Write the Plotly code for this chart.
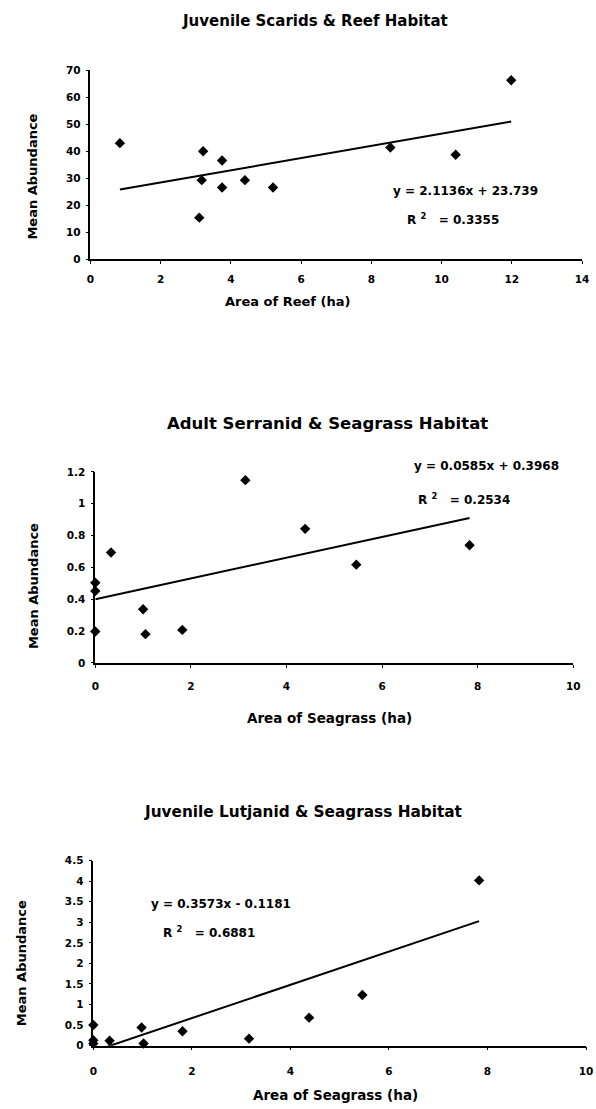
import plotly.graph_objects as go

W, H = 596, 1109

# ---- Data ----
# Chart 1: Juvenile Scarids & Reef Habitat
reef_area = [0.84, 3.21, 3.17, 3.10, 3.75, 3.75, 4.40, 5.20, 8.54, 10.40, 11.98]
scarid_abund = [43.0, 40.0, 29.3, 15.4, 36.6, 26.6, 29.3, 26.6, 41.4, 38.7, 66.3]
scarid_trend_x = [0.84, 11.98]
scarid_trend_y = [25.8, 51.0]

# Chart 2: Adult Serranid & Seagrass Habitat
seagrass_area2 = [0, 0, 0, 0.33, 1.00, 1.05, 1.82, 3.14, 4.39, 5.46, 7.83]
serranid_abund = [0.197, 0.503, 0.451, 0.693, 0.337, 0.180, 0.207, 1.148, 0.842, 0.617, 0.739]
serranid_trend_x = [0, 7.83]
serranid_trend_y = [0.40, 0.91]

# Chart 3: Juvenile Lutjanid & Seagrass Habitat
seagrass_area3 = [0, 0, 0, 0.33, 0.98, 1.02, 1.81, 3.16, 4.38, 5.46, 7.83]
lutjanid_abund = [0.50, 0.13, 0.05, 0.12, 0.44, 0.05, 0.35, 0.17, 0.68, 1.23, 4.02]
lutjanid_trend_x = [0, 7.83]
lutjanid_trend_y = [-0.14, 3.03]

titles = ["Juvenile Scarids & Reef Habitat",
          "Adult Serranid & Seagrass Habitat",
          "Juvenile Lutjanid & Seagrass Habitat"]
xtitles = ["Area of Reef (ha)", "Area of Seagrass (ha)", "Area of Seagrass (ha)"]
ytitle = "Mean Abundance"
equations = ["y = 2.1136x + 23.739", "y = 0.0585x + 0.3968", "y = 0.3573x - 0.1181"]
r2_texts = ["R <sup>2</sup>   = 0.3355", "R <sup>2</sup>   = 0.2534", "R <sup>2</sup>   = 0.6881"]

FONT = "DejaVu Sans, Liberation Sans, Arial, sans-serif"


def px_x(p):
    return p / W


def px_y(p):
    return 1 - p / H


# plot-area pixel boxes: (left, right, top, bottom)
boxes = [(88, 589, 65, 256), (93, 580, 471, 664), (91, 593, 864, 1051)]
xranges = [[0, 14], [0, 10], [0, 10]]
yranges = [[0, 70], [0, 1.2], [0, 4.5]]
ydticks = [10, 0.2, 0.5]
xstandoff = [6, 10, 12]

series = [(reef_area, scarid_abund, scarid_trend_x, scarid_trend_y),
          (seagrass_area2, serranid_abund, serranid_trend_x, serranid_trend_y),
          (seagrass_area3, lutjanid_abund, lutjanid_trend_x, lutjanid_trend_y)]

fig = go.Figure()
for i, (xs, ys, tx, ty) in enumerate(series):
    ax = "" if i == 0 else str(i + 1)
    fig.add_trace(go.Scatter(x=tx, y=ty, mode="lines", xaxis="x" + ax, yaxis="y" + ax,
                             line=dict(color="black", width=2), showlegend=False,
                             hoverinfo="skip"))
    fig.add_trace(go.Scatter(x=xs, y=ys, mode="markers", xaxis="x" + ax, yaxis="y" + ax,
                             marker=dict(symbol="diamond", size=8, color="black"),
                             cliponaxis=False, showlegend=False))

layout = dict(width=W, height=H, margin=dict(l=0, r=0, t=0, b=0),
              paper_bgcolor="white", plot_bgcolor="white", showlegend=False)

tickfont = dict(family=FONT, size=10.5, color="black", weight="bold")
for i in range(3):
    l, r, t, b = boxes[i]
    xa = "xaxis" if i == 0 else f"xaxis{i+1}"
    ya = "yaxis" if i == 0 else f"yaxis{i+1}"
    anchor_y = "y" if i == 0 else f"y{i+1}"
    anchor_x = "x" if i == 0 else f"x{i+1}"
    layout[xa] = dict(domain=[px_x(l), px_x(r)], anchor=anchor_y, range=xranges[i],
                      dtick=2, tick0=0, showgrid=False, zeroline=False,
                      showline=True, linecolor="black", linewidth=1.5,
                      ticks="outside", ticklen=3, tickcolor="black", tickwidth=1,
                      tickfont=tickfont, ticklabelstandoff=xstandoff[i])
    layout[ya] = dict(domain=[px_y(b), px_y(t)], anchor=anchor_x, range=yranges[i],
                      dtick=ydticks[i], tick0=0, showgrid=False, zeroline=False,
                      showline=True, linecolor="black", linewidth=1.5,
                      ticks="outside", ticklen=3, tickcolor="black", tickwidth=1,
                      tickfont=tickfont, ticklabelstandoff=3)

fig.update_layout(**layout)

ann = []


def add_text(text, x, y, size, angle=0):
    ann.append(dict(text=text, x=px_x(x), y=px_y(y), xref="paper", yref="paper",
                    showarrow=False, xanchor="center", yanchor="middle", textangle=angle,
                    font=dict(family=FONT, size=size, color="black", weight="bold")))


title_pos = [(317, 15, 15), (330, 422, 16.5), (305, 815, 15.3)]
xtitle_pos = [(289, 299, 13), (332, 720, 13.5), (338, 1101, 13.5)]
ytitle_pos = [(29, 172), (30, 586), (18, 968)]
eq_pos = [(470, 187), (492, 465), (221, 908)]
r2_pos = [(457, 215), (469, 498), (209, 936)]

for i in range(3):
    add_text(titles[i], title_pos[i][0], title_pos[i][1], title_pos[i][2])
    add_text(xtitles[i], xtitle_pos[i][0], xtitle_pos[i][1], xtitle_pos[i][2])
    add_text(ytitle, ytitle_pos[i][0], ytitle_pos[i][1], 13, angle=-90)
    add_text(equations[i], eq_pos[i][0], eq_pos[i][1], 12)
    add_text(r2_texts[i], r2_pos[i][0], r2_pos[i][1], 12)

fig.update_layout(annotations=ann)
fig.write_html("out.html", config={"displayModeBar": False},
               post_script="document.body.style.margin='0';")
